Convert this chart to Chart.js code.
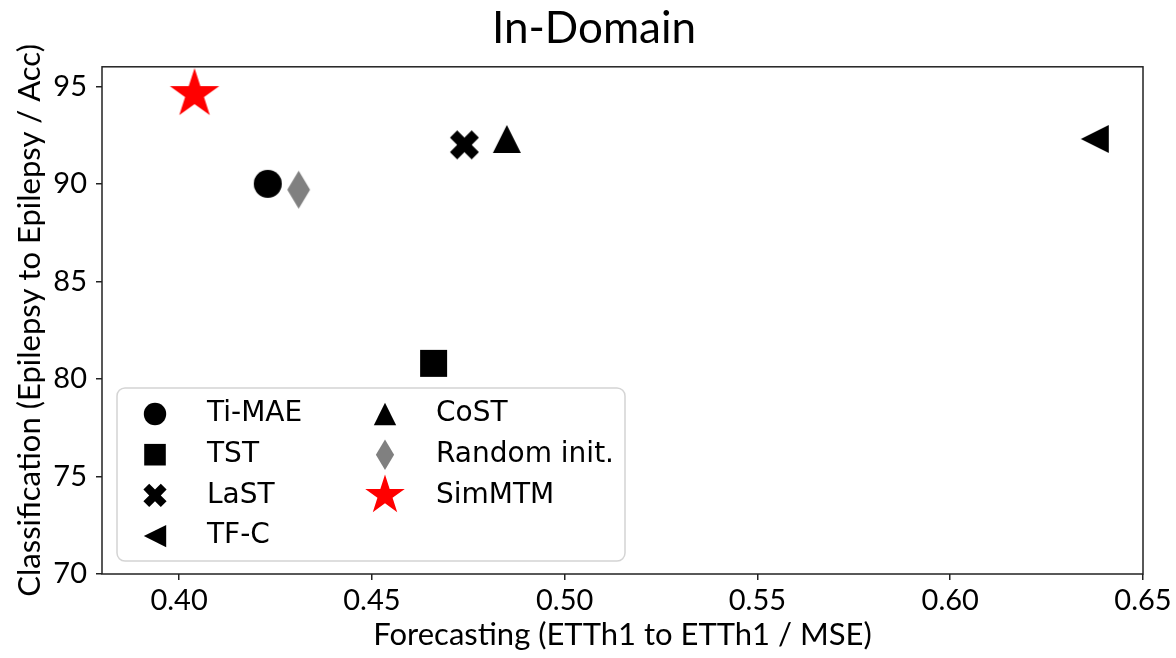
<!DOCTYPE html>
<html>
<head>
<meta charset="utf-8">
<title>In-Domain</title>
<script src="https://cdn.jsdelivr.net/npm/chart.js@4.4.1/dist/chart.umd.min.js"></script>
<style>
  html, body { margin: 0; padding: 0; background: #ffffff; }
  #wrap { width: 1176px; height: 658px; }
</style>
</head>
<body>
<div id="wrap"><canvas id="chart" width="1176" height="658"></canvas></div>
<script>
// Methods, in legend order (column-major: first four left, last three right)
const methods = ['Ti-MAE', 'TST', 'LaST', 'TF-C', 'CoST', 'Random init.', 'SimMTM'];
// Forecasting MSE (ETTh1 -> ETTh1)
const mseValues = [0.423, 0.466, 0.474, 0.6375, 0.485, 0.431, 0.404];
// Classification accuracy (Epilepsy -> Epilepsy)
const accValues = [90.0, 80.8, 92.0, 92.3, 92.3, 89.7, 94.6];
const markerShapes = ['circle', 'square', 'xFilled', 'triangleLeft', 'triangleUp', 'thinDiamond', 'star'];
const markerColors = ['#000000', '#000000', '#000000', '#000000', '#000000', '#808080', '#ff0000'];
const markerSizes = [28, 27, 29, 28, 28, 38, 52];
const xTicks = [0.40, 0.45, 0.50, 0.55, 0.60, 0.65];
const yTicks = [70, 75, 80, 85, 90, 95];

const FONT_FAMILY = 'Lato, "Open Sans", sans-serif';
const TICK_FONT = { family: FONT_FAMILY, size: 29 };
const AXIS_TITLE_FONT = { family: FONT_FAMILY, size: 31 };
const AXIS_COLOR = '#222222';

// Build a filled marker path centred on the origin
function markerPath(ctx, shape, s) {
  ctx.beginPath();
  const h = s / 2;
  switch (shape) {
    case 'circle':
      ctx.arc(0, 0, h, 0, Math.PI * 2);
      break;
    case 'square':
      ctx.rect(-h, -h, s, s);
      break;
    case 'triangleUp':
      ctx.moveTo(0, -h); ctx.lineTo(h, h); ctx.lineTo(-h, h); ctx.closePath();
      break;
    case 'triangleLeft':
      ctx.moveTo(-h, 0); ctx.lineTo(h, -h); ctx.lineTo(h, h); ctx.closePath();
      break;
    case 'thinDiamond': {
      const w = s * 0.3;
      ctx.moveTo(0, -h); ctx.lineTo(w, 0); ctx.lineTo(0, h); ctx.lineTo(-w, 0); ctx.closePath();
      break;
    }
    case 'xFilled': {
      const pts = [[-1, -2], [0, -1], [1, -2], [2, -1], [1, 0], [2, 1],
                   [1, 2], [0, 1], [-1, 2], [-2, 1], [-1, 0], [-2, -1]];
      pts.forEach((p, i) => {
        const px = p[0] / 4 * s, py = -p[1] / 4 * s;
        if (i === 0) ctx.moveTo(px, py); else ctx.lineTo(px, py);
      });
      ctx.closePath();
      break;
    }
    case 'star': {
      const R = h, r = h * 0.381966;
      for (let i = 0; i < 10; i++) {
        const rad = (i % 2) ? r : R;
        const a = -Math.PI / 2 + i * Math.PI / 5;
        const px = rad * Math.cos(a), py = rad * Math.sin(a);
        if (i === 0) ctx.moveTo(px, py); else ctx.lineTo(px, py);
      }
      ctx.closePath();
      break;
    }
  }
}

// Render a marker into a small canvas usable as a Chart.js pointStyle
function makeMarker(shape, color, s) {
  const w = shape === 'thinDiamond' ? s * 0.6 : s;
  const c = document.createElement('canvas');
  c.width = Math.ceil(w + 4);
  c.height = Math.ceil(s + 4);
  const ctx = c.getContext('2d');
  ctx.translate(c.width / 2, c.height / 2);
  markerPath(ctx, shape, s);
  ctx.fillStyle = color;
  ctx.fill();
  return c;
}

const datasets = methods.map((name, i) => ({
  label: name,
  data: [{ x: mseValues[i], y: accValues[i] }],
  pointStyle: makeMarker(markerShapes[i], markerColors[i], markerSizes[i]),
  backgroundColor: markerColors[i],
  borderColor: markerColors[i],
  pointRadius: markerSizes[i] / 2,
  pointHoverRadius: markerSizes[i] / 2
}));

// Box around the plotting area
const framePlugin = {
  id: 'frame',
  afterDatasetsDraw(chart) {
    const { ctx, chartArea: a } = chart;
    ctx.save();
    ctx.strokeStyle = AXIS_COLOR;
    ctx.lineWidth = 1.5;
    ctx.strokeRect(a.left, a.top, a.right - a.left, a.bottom - a.top);
    ctx.restore();
  }
};

// Two-column legend placed inside the lower-left corner of the plot
const innerLegendPlugin = {
  id: 'innerLegend',
  afterDraw(chart) {
    const { ctx, chartArea: a } = chart;
    const boxX = a.left + 15, boxW = 508, boxH = 173;
    const boxY = a.bottom - 13 - boxH;
    ctx.save();
    ctx.beginPath();
    ctx.roundRect(boxX, boxY, boxW, boxH, 8);
    ctx.fillStyle = 'rgba(255,255,255,0.8)';
    ctx.fill();
    ctx.strokeStyle = '#d4d4d4';
    ctx.lineWidth = 1.5;
    ctx.stroke();

    const rows = 4, rowStep = 40.7, firstRow = boxY + 23;
    const cols = [{ marker: boxX + 38, text: boxX + 90 }, { marker: boxX + 268, text: boxX + 319 }];
    const fontSize = 28;
    ctx.font = fontSize + 'px "DejaVu Sans"';
    ctx.textBaseline = 'alphabetic';
    ctx.textAlign = 'left';
    ctx.fillStyle = '#000000';
    chart.data.datasets.forEach((ds, i) => {
      const col = cols[Math.floor(i / rows)];
      const rowY = firstRow + (i % rows) * rowStep;
      ctx.save();
      ctx.translate(col.marker, rowY + 3);
      markerPath(ctx, markerShapes[i], markerSizes[i] * 0.8);
      ctx.fillStyle = markerColors[i];
      ctx.fill();
      ctx.restore();
      ctx.fillText(ds.label, col.text, rowY + fontSize * 0.729 / 2);
    });
    ctx.restore();
  }
};

new Chart(document.getElementById('chart'), {
  type: 'scatter',
  data: { datasets },
  plugins: [framePlugin, innerLegendPlugin],
  options: {
    responsive: false,
    animation: false,
    events: [],
    // left/right padding balanced so the title sits over the figure centre
    layout: { padding: { left: 45, right: 33, top: 0, bottom: 0 } },
    plugins: {
      legend: { display: false },
      tooltip: { enabled: false },
      title: {
        display: true,
        text: 'In-Domain',
        color: '#000000',
        font: { family: FONT_FAMILY, size: 44, weight: 'normal' },
        padding: { top: 2, bottom: 12 }
      }
    },
    scales: {
      x: {
        type: 'linear',
        min: 0.38,
        max: 0.65,
        afterBuildTicks: s => { s.ticks = xTicks.map(v => ({ value: v })); },
        afterFit: s => { s.height = 84; },
        ticks: {
          color: '#000000',
          font: TICK_FONT,
          padding: 3,
          maxRotation: 0,
          callback: v => Number(v).toFixed(2)
        },
        grid: { drawOnChartArea: false, color: AXIS_COLOR, lineWidth: 1.5, tickLength: 6 },
        border: { display: false },
        title: {
          display: true,
          text: 'Forecasting (ETTh1 to ETTh1 / MSE)',
          color: '#000000',
          font: AXIS_TITLE_FONT,
          padding: { top: 0, bottom: 4 }
        }
      },
      y: {
        type: 'linear',
        min: 70,
        max: 96,
        afterBuildTicks: s => { s.ticks = yTicks.map(v => ({ value: v })); },
        afterFit: s => { s.width = 57; },
        ticks: {
          color: '#000000',
          font: TICK_FONT,
          padding: 9,
          callback: v => String(v)
        },
        grid: { drawOnChartArea: false, color: AXIS_COLOR, lineWidth: 1.5, tickLength: 6 },
        border: { display: false },
        title: {
          display: true,
          text: 'Classification (Epilepsy to Epilepsy / Acc)',
          color: '#000000',
          font: AXIS_TITLE_FONT,
          // pulls the title out into the left margin
          padding: { top: -34, bottom: 0 }
        }
      }
    }
  }
});
</script>
</body>
</html>
